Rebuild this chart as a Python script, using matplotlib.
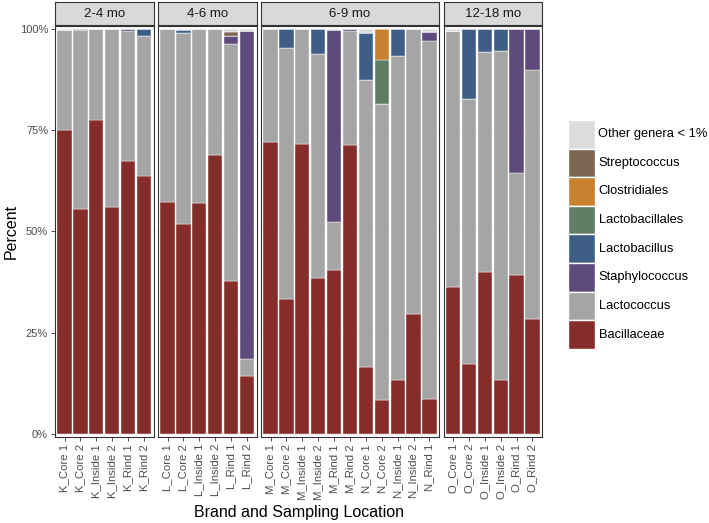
import numpy as np
import matplotlib.pyplot as plt
from matplotlib.patches import Rectangle

plt.rcParams['font.family'] = ['Liberation Sans', 'DejaVu Sans']

# facets and samples
groups = ["2-4 mo", "4-6 mo", "6-9 mo", "12-18 mo"]
group_sizes = [6, 6, 11, 6]
samples = ["K_Core 1", "K_Core 2", "K_Inside 1", "K_Inside 2", "K_Rind 1", "K_Rind 2",
           "L_Core 1", "L_Core 2", "L_Inside 1", "L_Inside 2", "L_Rind 1", "L_Rind 2",
           "M_Core 1", "M_Core 2", "M_Inside 1", "M_Inside 2", "M_Rind 1", "M_Rind 2",
           "N_Core 1", "N_Core 2", "N_Inside 1", "N_Inside 2", "N_Rind 1",
           "O_Core 1", "O_Core 2", "O_Inside 1", "O_Inside 2", "O_Rind 1", "O_Rind 2"]

# percent per taxon (stack order bottom -> top)
bacillaceae = [75.1, 55.5, 77.5, 56.0, 67.3, 63.7,
               57.4, 51.9, 57.1, 69.0, 37.8, 14.3,
               72.1, 33.3, 71.5, 38.4, 40.6, 71.4,
               16.6, 8.4, 13.3, 29.7, 8.6,
               36.2, 17.2, 40.0, 13.3, 39.3, 28.3]
lactococcus = [24.7, 44.2, 22.4, 43.9, 32.3, 34.6,
               42.5, 47.1, 42.8, 30.9, 58.6, 4.2,
               27.8, 62.1, 28.4, 55.5, 11.7, 28.1,
               70.9, 73.0, 80.1, 70.2, 88.4,
               63.2, 65.5, 54.4, 81.2, 25.2, 61.6]
staphylococcus = [0, 0, 0, 0, 0.3, 0,
                  0, 0, 0, 0, 1.9, 81.1,
                  0, 0, 0, 0, 47.4, 0.5,
                  0, 0, 0, 0, 2.3,
                  0, 0, 0, 0, 35.5, 10.1]
lactobacillus = [0, 0.2, 0, 0, 0, 1.6,
                 0, 0.7, 0, 0, 0, 0,
                 0, 4.6, 0, 6.1, 0, 0,
                 11.5, 0, 6.6, 0, 0,
                 0, 17.3, 5.6, 5.5, 0, 0]
lactobacillales = [0, 0, 0, 0, 0, 0,
                   0, 0, 0, 0, 0, 0,
                   0, 0, 0, 0, 0, 0,
                   0, 10.9, 0, 0, 0,
                   0, 0, 0, 0, 0, 0]
clostridiales = [0, 0, 0, 0, 0, 0,
                 0, 0, 0, 0, 0, 0,
                 0, 0, 0, 0, 0, 0,
                 0, 7.7, 0, 0, 0,
                 0, 0, 0, 0, 0, 0]
streptococcus = [0, 0, 0, 0, 0, 0,
                 0, 0, 0, 0, 1.0, 0,
                 0, 0, 0, 0, 0, 0,
                 0, 0, 0, 0, 0,
                 0, 0, 0, 0, 0, 0]
other = [0.2, 0.1, 0.1, 0.1, 0.1, 0.1,
         0.1, 0.3, 0.1, 0.1, 0.7, 0.4,
         0.1, 0, 0.1, 0, 0.3, 0,
         1.0, 0, 0, 0.1, 0.7,
         0.6, 0, 0, 0, 0, 0]

taxa = ["Bacillaceae", "Lactococcus", "Staphylococcus", "Lactobacillus",
        "Lactobacillales", "Clostridiales", "Streptococcus", "Other genera < 1%"]
series = [bacillaceae, lactococcus, staphylococcus, lactobacillus,
          lactobacillales, clostridiales, streptococcus, other]
colors = ["#842D2A", "#A5A5A5", "#5E4A7D", "#3F5E85",
          "#5F7D65", "#C8822F", "#7A6651", "#DCDCDC"]

W, H = 709, 523
fig = plt.figure(figsize=(W / 100, H / 100), dpi=100)

def box(x0, y0, x1, y1):
    return [x0 / W, 1 - y1 / H, (x1 - x0) / W, (y1 - y0) / H]

panel_x = [(55, 153.5), (158, 256.5), (261, 439), (443.5, 542)]
panel_top, panel_bot = 25.5, 437
edge = "#333333"

data = np.array(series)
start = 0
for g, (name, n) in enumerate(zip(groups, group_sizes)):
    x0, x1 = panel_x[g]
    ax = fig.add_axes(box(x0, panel_top, x1, panel_bot))
    idx = np.arange(n)
    vals = data[:, start:start + n]
    bottom = np.zeros(n)
    for ax_i in [0, 25, 50, 75, 100]:
        ax.axhline(ax_i, color="#EBEBEB", lw=0.6, zorder=0)
    for k in range(len(taxa)):
        ax.bar(idx, vals[k], 0.9, bottom=bottom, color=colors[k],
               edgecolor="white", linewidth=0.3, zorder=2)
        bottom = bottom + vals[k]
    ax.set_xlim(-0.6, n - 0.4)
    ax.set_ylim(-0.74, 100.86)
    ax.set_xticks(idx)
    ax.set_xticklabels(samples[start:start + n], rotation=90, fontsize=8.2, color="#4D4D4D")
    ax.set_yticks([0, 25, 50, 75, 100])
    if g == 0:
        ax.set_yticklabels(["0%", "25%", "50%", "75%", "100%"], fontsize=8, color="#4D4D4D")
        ax.tick_params(axis="y", length=3, color=edge, width=0.6, pad=2)
    else:
        ax.tick_params(axis="y", left=False, labelleft=False)
    ax.tick_params(axis="x", length=3, color=edge, width=0.6, pad=2)
    for s in ax.spines.values():
        s.set_color(edge)
        s.set_linewidth(0.8)
    # facet strip
    sax = fig.add_axes(box(x0, 2, x1, 24.5))
    sax.set_facecolor("#D9D9D9")
    sax.set_xticks([])
    sax.set_yticks([])
    for s in sax.spines.values():
        s.set_color(edge)
        s.set_linewidth(0.8)
    sax.text(0.5, 0.48, name, ha="center", va="center", fontsize=9.5, color="#1A1A1A",
             transform=sax.transAxes)
    start += n

fig.text(298.5 / W, 1 - 512 / H, "Brand and Sampling Location", ha="center", va="center",
         fontsize=11.5)
fig.text(11 / W, 1 - 231 / H, "Percent", ha="center", va="center", rotation=90, fontsize=11.5)

# legend (top entry = last stacked taxon)
lax = fig.add_axes([0, 0, 1, 1])
lax.set_xlim(0, W)
lax.set_ylim(H, 0)
lax.axis("off")
key_h = 28.6
for j, k in enumerate(range(len(taxa) - 1, -1, -1)):
    y = 120 + j * key_h
    lax.add_patch(Rectangle((568, y), 26.5, key_h, facecolor=colors[k],
                            edgecolor="white", linewidth=1))
    lax.text(598.5, y + key_h / 2, taxa[k], ha="left", va="center", fontsize=9.3)

fig.savefig("out.png", dpi=100)
